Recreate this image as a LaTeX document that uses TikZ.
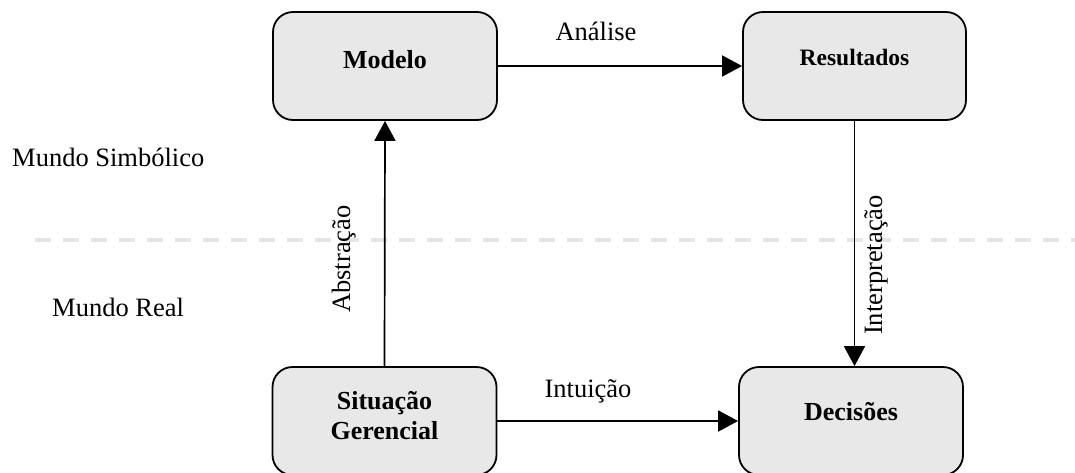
\documentclass[tikz,border=0pt]{standalone}
\usepackage{fontspec}
\setmainfont{Liberation Serif}
\usetikzlibrary{arrows.meta}
\begin{document}
\begin{tikzpicture}[x=1pt,y=-1pt,
  stagebox/.style={draw=black, line width=1.8pt, fill=black!9, rounded corners=20pt,
    minimum width=224pt, minimum height=108pt, inner sep=0pt},
  flow/.style={draw=black, line width=1.7pt, -{Triangle[length=20pt,width=21pt]}},
  plain/.style={font=\fontsize{26.5}{32}\selectfont, inner sep=0pt},
  boxtext/.style={font=\fontsize{26}{32}\selectfont\bfseries, align=center, inner sep=0pt},
  divider/.style={draw=black!10, line width=4pt, dash pattern=on 16pt off 12pt}
]
\useasboundingbox (0,0) rectangle (1075,472);
\clip (0,0) rectangle (1075,472);

% boundary between the symbolic and the real world
\coordinate (dl) at (35,240);
\coordinate (dr) at (1080,240);
\path[divider] (dl) -- (dr);

% the four stages
\node[stagebox, label={[boxtext, yshift=6pt]center:Modelo}] (mod) at (385,66) {};
\node[stagebox, minimum width=223pt,
      label={[boxtext, font=\fontsize{23.5}{28}\selectfont\bfseries, yshift=9pt]center:Resultados}] (res) at (854.5,66) {};
\node[stagebox, label={[boxtext, yshift=5pt]center:Situação\\[-2pt]Gerencial}] (sit) at (384.5,421) {};
\node[stagebox, label={[boxtext, yshift=9pt]center:Decisões}] (dec) at (851,421) {};

% connectors
\draw[flow] (mod.east) -- (res.west);
\draw[flow] (sit.east) -- (sit.east -| dec.west);
\draw[flow] (sit.north) -- (mod.south);
\draw[flow] (res.south) -- (res.south |- dec.north);

% connector labels
\node[plain, anchor=base] (lan) at (596,40) {Análise};
\node[plain, anchor=base] (lin) at (588,397) {Intuição};
\node[plain, anchor=base, rotate=90] (lab) at (350,259) {Abstração};
\node[plain, anchor=base, rotate=90] (lint) at (882,265) {Interpretação};

% world labels
\node[plain, anchor=base west] (ws) at (12,166) {Mundo Simbólico};
\node[plain, anchor=base west] (wr) at (52,316) {Mundo Real};
\end{tikzpicture}
\end{document}
